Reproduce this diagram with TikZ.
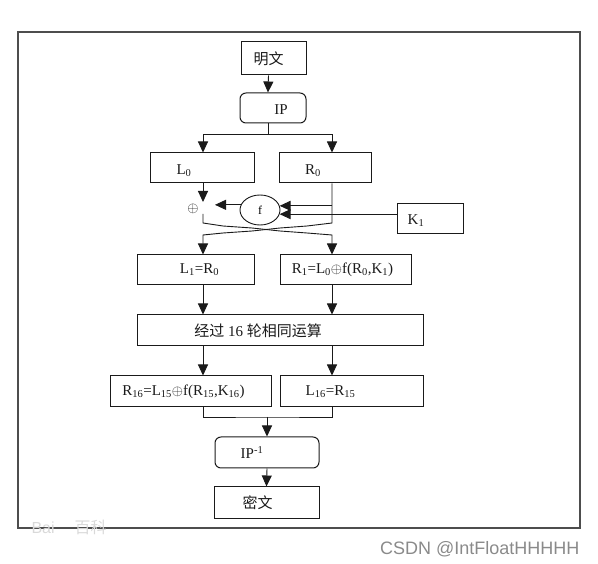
\documentclass[tikz,border=0pt]{standalone}
\usepackage{fontspec}
\setmainfont{Liberation Serif}
\newfontfamily\cjk{Noto Sans CJK SC}
\newfontfamily\wmfont{Liberation Sans}
\usetikzlibrary{arrows.meta, positioning, calc, shapes.geometric}
\definecolor{ink}{HTML}{1A1A1A}
\definecolor{framegray}{HTML}{4D4D4D}
\definecolor{wmgray}{HTML}{8A8A8A}
\tikzset{
  % Boxes
  blk/.style={draw=ink, line width=1pt, inner sep=0pt,
    minimum height=30pt},
  rblk/.style={blk, rounded corners=6pt},
  % Texts inside the boxes
  lbl/.style={font=\fontsize{15}{17}\selectfont, text=ink, inner sep=0pt},
  cjklbl/.style={font=\cjk\fontsize{15}{17}\selectfont, text=ink, inner sep=0pt},
  % Connectors
  flow/.style={-{Triangle[length=11pt,width=10pt]}, line width=0.9pt, ink},
  wire/.style={line width=0.9pt, ink},
}

\begin{document}
\begin{tikzpicture}[x=1pt, y=-1pt]
\useasboundingbox (0,0) rectangle (598,564);

% ====================================================================
% Outer frame
% ====================================================================
\draw[framegray, line width=1.4pt] (18,32) rectangle (580,528);

% lanes
\coordinate (colL) at (203,0);
\coordinate (colM) at (268,0);
\coordinate (colR) at (332,0);

% ====================================================================
% Plaintext and IP
% ====================================================================
\node[blk, minimum width=65pt, minimum height=33pt] (plain) at (273.5,58.5) {};
\node[cjklbl] at ([xshift=-5pt]plain.center) {明文};

\node[rblk, minimum width=66pt] (ip) at (273,108) {};
\node[lbl] at ([xshift=8pt, yshift=-2pt]ip.center) {IP};

\draw[flow] ([xshift=-5pt]plain.south) -- ([xshift=-5pt]ip.north);

% ====================================================================
% L0 / R0
% ====================================================================
\node[blk, minimum width=104pt] (l0) at (202,168) {};
\node[lbl] at ([xshift=-18pt, yshift=-3pt]l0.center) {L\textsubscript{0}};

\node[blk, minimum width=92pt] (r0) at (325,168) {};
\node[lbl] at ([xshift=-12pt, yshift=-3pt]r0.center) {R\textsubscript{0}};

\coordinate (split) at (268,134);
\draw[wire] (colM |- ip.south) -- (split);
\draw[flow] (split) -| (colL |- l0.north);
\draw[flow] (split) -| (colR |- r0.north);

% ====================================================================
% Round function
% ====================================================================
\node[draw=ink, line width=0.9pt, ellipse, inner sep=0pt,
      minimum width=40pt, minimum height=30pt] (f) at (260,210)
  {\fontsize{12}{14}\selectfont f};
\node[lbl] (xor) at (193,209) {$\oplus$};

\node[blk, minimum width=66pt] (k1) at (430,219) {};
\node[lbl] at ([xshift=-14pt, yshift=-2pt]k1.center) {K\textsubscript{1}};

\coordinate (xin)  at (203,202);
\coordinate (xout) at (203,214);
\coordinate (fout) at (215,0);
\coordinate (xl1) at (203,223);
\coordinate (xr1) at (332,223);
\coordinate (xl2) at (203,235);
\coordinate (xr2) at (332,235);

\draw[flow] (colL |- l0.south) -- (xin);
\draw[flow] (f.165) -- (f.165 -| fout);
\draw[flow] (colR |- f.12) -- (f.12);
\draw[flow] (k1.west |- f.-12) -- (f.-12);

% ====================================================================
% L1 / R1 and the swap
% ====================================================================
\node[blk, minimum width=117pt] (l1) at (195.5,270) {};
\node[lbl] at ([xshift=4pt]l1.center) {L\textsubscript{1}=R\textsubscript{0}};

\node[blk, minimum width=131pt] (r1) at (345.5,270) {};
\node[lbl] at ([xshift=-3pt]r1.center)
  {R\textsubscript{1}=L\textsubscript{0}$\oplus$f(R\textsubscript{0},K\textsubscript{1})};

\draw[flow] (xout) -- (xl1) -- (223,226) -- (252,228) -- (280,231)
  -- (307,233) -- (xr2) -- (colR |- r1.north);
\draw[flow] (colR |- r0.south) -- (xr1) -- (307,226) -- (280,228)
  -- (252,231) -- (223,233) -- (xl2) -- (colL |- l1.north);

% ====================================================================
% 16 rounds
% ====================================================================
\node[blk, minimum width=286pt, minimum height=31pt] (rounds) at (280,330.5) {};
\node[lbl] at ([xshift=-22pt]rounds.center)
  {{\cjk 经过} 16 {\cjk 轮相同运算}};

\draw[flow] (colL |- l1.south) -- (colL |- rounds.north);
\draw[flow] (colR |- r1.south) -- (colR |- rounds.north);

% ====================================================================
% R16 / L16
% ====================================================================
\node[blk, minimum width=161pt, minimum height=31pt] (r16) at (190.5,391.5) {};
\node[lbl] at ([xshift=-7pt]r16.center)
  {R\textsubscript{16}=L\textsubscript{15}$\oplus$f(R\textsubscript{15},K\textsubscript{16})};

\node[blk, minimum width=143pt, minimum height=31pt] (l16) at (351.5,391.5) {};
\node[lbl] at ([xshift=-21pt]l16.center) {L\textsubscript{16}=R\textsubscript{15}};

\draw[flow] (colL |- rounds.south) -- (colL |- r16.north);
\draw[flow] (colR |- rounds.south) -- (colR |- l16.north);

% ====================================================================
% IP^-1 and ciphertext
% ====================================================================
\node[rblk, minimum width=104pt, minimum height=31pt] (ipinv) at (267,452.5) {};
\node[lbl] at ([xshift=-15pt]ipinv.center) {IP\textsuperscript{-1}};

\node[blk, minimum width=105pt, minimum height=31pt] (cipher) at (266.5,502.5) {};
\node[cjklbl] at ([xshift=-9pt]cipher.center) {密文};

\coordinate (join) at (267,417);
\draw[wire] (colL |- r16.south) |- (join) -| (colR |- l16.south);
\draw[flow] (join) -- (join |- ipinv.north);
\draw[flow] (ipinv.south) -- (cipher.north);

% ====================================================================
% Watermarks
% ====================================================================
\node[font=\wmfont\fontsize{16}{18}\selectfont, text=black!15, anchor=west]
  (baidu) at (28,527) {Bai\hspace{20pt}{\cjk 百科}};
\node[font=\wmfont\fontsize{18}{20}\selectfont, text=wmgray, anchor=east]
  (credit) at (583,549) {CSDN @IntFloatHHHHH};

\end{tikzpicture}
\end{document}
